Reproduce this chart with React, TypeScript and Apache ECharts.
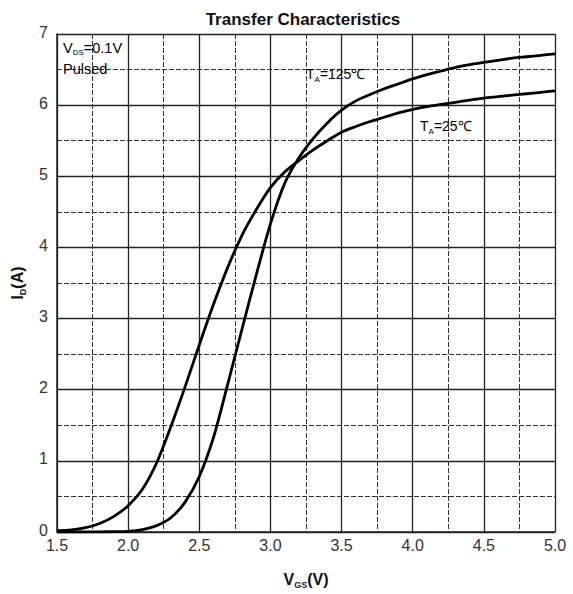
import React, { useEffect, useRef } from "react";
import * as echarts from "echarts";

const vgs = [1.5, 1.6, 1.7, 1.8, 1.9, 2.0, 2.1, 2.2, 2.3, 2.4, 2.5, 2.6, 2.7, 2.8, 2.9, 3.0, 3.1, 3.2, 3.3, 3.4, 3.5, 3.6, 3.7, 3.8, 3.9, 4.0, 4.1, 4.2, 4.3, 4.4, 4.5, 4.6, 4.7, 4.8, 4.9, 5.0];
const id25 = [0.02, 0.03, 0.06, 0.12, 0.22, 0.37, 0.6, 0.97, 1.48, 2.04, 2.63, 3.2, 3.72, 4.17, 4.53, 4.84, 5.06, 5.22, 5.37, 5.5, 5.62, 5.7, 5.77, 5.83, 5.89, 5.94, 5.98, 6.01, 6.04, 6.07, 6.1, 6.12, 6.14, 6.16, 6.18, 6.2];
const id125 = [0.0, 0.0, 0.0, 0.002, 0.005, 0.01, 0.035, 0.09, 0.2, 0.42, 0.78, 1.33, 2.08, 2.85, 3.61, 4.33, 4.9, 5.26, 5.53, 5.75, 5.93, 6.06, 6.15, 6.23, 6.3, 6.37, 6.43, 6.48, 6.53, 6.57, 6.6, 6.63, 6.66, 6.68, 6.7, 6.72];

const xTicks = [1.5, 2.0, 2.5, 3.0, 3.5, 4.0, 4.5, 5.0];
const yTicks = [0, 1, 2, 3, 4, 5, 6, 7];

const FONT = "Liberation Sans, Arial, sans-serif";

export default function App() {
  const ref = useRef<HTMLDivElement>(null);
  useEffect(() => {
    if (!ref.current) return;
    const chart = echarts.init(ref.current, null, { renderer: "svg" });
    const sub = { fontSize: 9, fontFamily: FONT, color: "#222", padding: [10, 0, 0, 0] };
    chart.setOption({
      animation: false,
      backgroundColor: "#fff",
      textStyle: { fontFamily: FONT },
      title: {
        text: "Transfer Characteristics",
        left: 298,
        textAlign: "center",
        top: 6,
        textStyle: { fontSize: 17, fontWeight: "bold", color: "#111", fontFamily: FONT },
      },
      grid: { left: 57, right: 18, top: 34, bottom: 62, containLabel: false },
      xAxis: {
        type: "value",
        min: xTicks[0],
        max: xTicks[xTicks.length - 1],
        interval: 0.5,
        axisLine: { show: true, lineStyle: { color: "#222", width: 1.5 } },
        axisTick: { show: false },
        axisLabel: {
          fontSize: 16,
          color: "#333",
          margin: 5,
          formatter: (v: number) => v.toFixed(1),
        },
        splitLine: { show: true, lineStyle: { color: "#222", width: 1.3 } },
        minorTick: { show: false, splitNumber: 2 },
        minorSplitLine: { show: true, lineStyle: { color: "#333", width: 1, type: [5, 2] } },
        name: "{a|V}{s|GS}{a|(V)}",
        nameLocation: "middle",
        nameGap: 38,
        nameTextStyle: {
          rich: {
            a: { fontSize: 16, fontWeight: "bold", color: "#111", fontFamily: FONT },
            s: { ...sub, fontWeight: "bold" },
          },
        },
      },
      yAxis: {
        type: "value",
        min: yTicks[0],
        max: yTicks[yTicks.length - 1],
        interval: 1,
        axisLine: { show: true, lineStyle: { color: "#222", width: 1.5 } },
        axisTick: { show: false },
        axisLabel: { fontSize: 16, color: "#333", margin: 9, verticalAlign: "bottom", padding: [0, 0, -6, 0] },
        splitLine: { show: true, lineStyle: { color: "#222", width: 1.3 } },
        minorTick: { show: false, splitNumber: 2 },
        minorSplitLine: { show: true, lineStyle: { color: "#333", width: 1, type: [5, 2] } },
        name: "{a|I}{s|D}{a|(A)}",
        nameLocation: "middle",
        nameGap: 30,
        nameTextStyle: {
          rich: {
            a: { fontSize: 16, fontWeight: "bold", color: "#111", fontFamily: FONT },
            s: { ...sub, fontWeight: "bold" },
          },
        },
      },
      graphic: [
        {
          type: "text",
          left: 63,
          top: 40,
          style: {
            text: "{a|V}{s|DS}{a|=0.1V}\n{a|Pulsed}",
            rich: {
              a: { fontSize: 14.5, color: "#222", fontFamily: FONT, lineHeight: 21 },
              s: { ...sub, fontSize: 8 },
            },
          },
          z: 100,
        },
        {
          type: "text",
          left: 306,
          top: 67,
          style: {
            text: "{a|T}{s|A}{a|=125℃}",
            rich: {
              a: { fontSize: 14, color: "#222", fontFamily: FONT },
              s: { ...sub, fontSize: 8 },
            },
          },
          z: 100,
        },
        {
          type: "text",
          left: 420,
          top: 119,
          style: {
            text: "{a|T}{s|A}{a|=25℃}",
            rich: {
              a: { fontSize: 14, color: "#222", fontFamily: FONT },
              s: { ...sub, fontSize: 8 },
            },
          },
          z: 100,
        },
      ],
      series: [
        {
          name: "25",
          type: "line",
          data: vgs.map((x, i) => [x, id25[i]]),
          smooth: 0.3,
          showSymbol: false,
          lineStyle: { color: "#000", width: 2.8 },
          z: 10,
        },
        {
          name: "125",
          type: "line",
          data: vgs.map((x, i) => [x, id125[i]]),
          smooth: 0.3,
          showSymbol: false,
          lineStyle: { color: "#000", width: 2.8 },
          z: 10,
        },
      ],
    });
    return () => chart.dispose();
  }, []);
  return (
    <div
      ref={ref}
      style={{ position: "fixed", left: 0, top: 0, width: 573, height: 594, background: "#fff" }}
    />
  );
}
